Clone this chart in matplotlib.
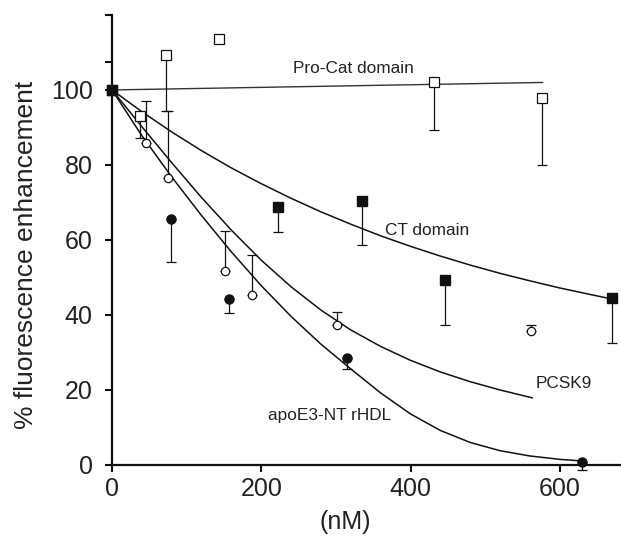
import matplotlib
matplotlib.use("Agg")
import matplotlib.pyplot as plt

plt.rcParams["font.family"] = ["Liberation Sans", "DejaVu Sans"]

# data points (x in nM, y in %)
procat_x = [0, 37, 72, 144, 432, 576]
procat_y = [100, 93, 109.3, 113.5, 102, 97.8]
procat_lo = [0, 5.8, 14.9, 0, 12.8, 17.9]

pcsk9_x = [0, 46, 75, 151, 188, 301, 561]
pcsk9_y = [100, 85.8, 76.4, 51.7, 45.3, 37.3, 35.8]
pcsk9_hi = [0, 11.2, 18, 10.8, 10.8, 3.6, 1.5]

apoe_x = [0, 79, 157, 315, 630]
apoe_y = [100, 65.6, 44.2, 28.4, 0.7]
apoe_lo = [0, 11.4, 3.7, 2.8, 2.0]

ct_x = [0, 223, 335, 446, 670]
ct_y = [100, 68.7, 70.5, 49.3, 44.5]
ct_lo = [0, 6.5, 11.9, 12, 12.1]

# fitted curves
procat_fit_x = [0, 577]
procat_fit_y = [100, 102]
ct_fit_x = [0, 40, 80, 120, 160, 200, 240, 280, 320, 360, 400, 440, 480, 520,
            560, 600, 640, 671]
ct_fit_y = [100, 94.2, 88.8, 83.8, 79.2, 75.0, 71.1, 67.5, 64.2, 61.1, 58.3,
            55.7, 53.3, 51.1, 49.1, 47.2, 45.5, 44.2]
pcsk9_fit_x = [0, 40, 80, 120, 160, 200, 240, 280, 320, 360, 400, 440, 480,
               520, 563]
pcsk9_fit_y = [100, 90.2, 80.6, 71.3, 62.6, 54.6, 47.5, 41.3, 36.0, 31.6,
               27.9, 24.8, 22.2, 20.0, 17.9]
apoe_fit_x = [0, 40, 80, 120, 160, 200, 240, 280, 320, 360, 400, 440, 480,
              520, 560, 600, 628]
apoe_fit_y = [100, 87.8, 76.8, 66.5, 56.8, 47.8, 39.6, 32.2, 25.6, 19.2,
              13.6, 9.2, 6.0, 3.8, 2.4, 1.5, 1.1]

fig = plt.figure(figsize=(6.21, 5.36), dpi=100)
ax = fig.add_axes([0.1804, 0.1325, 0.8196, 0.8396])

lc = "#111111"
ax.plot(procat_fit_x, procat_fit_y, color="#333333", lw=1.0)
ax.plot(ct_fit_x, ct_fit_y, color=lc, lw=1.1)
ax.plot(pcsk9_fit_x, pcsk9_fit_y, color=lc, lw=1.1)
ax.plot(apoe_fit_x, apoe_fit_y, color=lc, lw=1.1)

eb = dict(ecolor=lc, elinewidth=0.9, capsize=3.5, capthick=0.9, ls="none", clip_on=False)
ax.errorbar(procat_x, procat_y, yerr=[procat_lo, [0] * len(procat_x)], fmt="s",
            ms=7.2, mfc="white", mec=lc, mew=0.9, **eb)
ax.errorbar(pcsk9_x, pcsk9_y, yerr=[[0] * len(pcsk9_x), pcsk9_hi], fmt="o",
            ms=6, mfc="white", mec=lc, mew=0.9, **eb)
ax.errorbar(apoe_x, apoe_y, yerr=[apoe_lo, [0] * len(apoe_x)], fmt="o",
            ms=6.5, mfc=lc, mec=lc, **eb)
ax.errorbar(ct_x, ct_y, yerr=[ct_lo, [0] * len(ct_x)], fmt="s",
            ms=7.8, mfc=lc, mec=lc, **eb)

tc = "#222222"
ax.text(242, 105.6, "Pro-Cat domain", fontsize=12.4, color=tc, va="center")
ax.text(366, 62.4, "CT domain", fontsize=12.4, color=tc, va="center")
ax.text(568, 21.8, "PCSK9", fontsize=12.4, color=tc, va="center")
ax.text(209, 13.1, "apoE3-NT rHDL", fontsize=12.4, color=tc, va="center")

ax.set_xlim(0, 682)
ax.set_ylim(0, 120)
ax.set_xticks([0, 200, 400, 600])
ax.set_yticks([0, 20, 40, 60, 80, 100, 107.5, 120])
ax.set_yticklabels(["0", "20", "40", "60", "80", "100", "", ""])
for s in ["top", "right"]:
    ax.spines[s].set_visible(False)
for s in ["left", "bottom"]:
    ax.spines[s].set_linewidth(1.6)
    ax.spines[s].set_color(lc)
ax.tick_params(direction="out", length=5, width=1.5, labelsize=18, colors=lc,
               labelcolor=tc)
ax.tick_params(axis="x", pad=4)
ax.tick_params(axis="y", pad=9)
ax.set_xlabel("(nM)", fontsize=18, color=tc)
ax.set_ylabel("% fluorescence enhancement", fontsize=19, color=tc)
ax.xaxis.set_label_coords(0.458, -0.1)
ax.yaxis.set_label_coords(-0.145, 0.467)

fig.savefig("out.png", dpi=100)
